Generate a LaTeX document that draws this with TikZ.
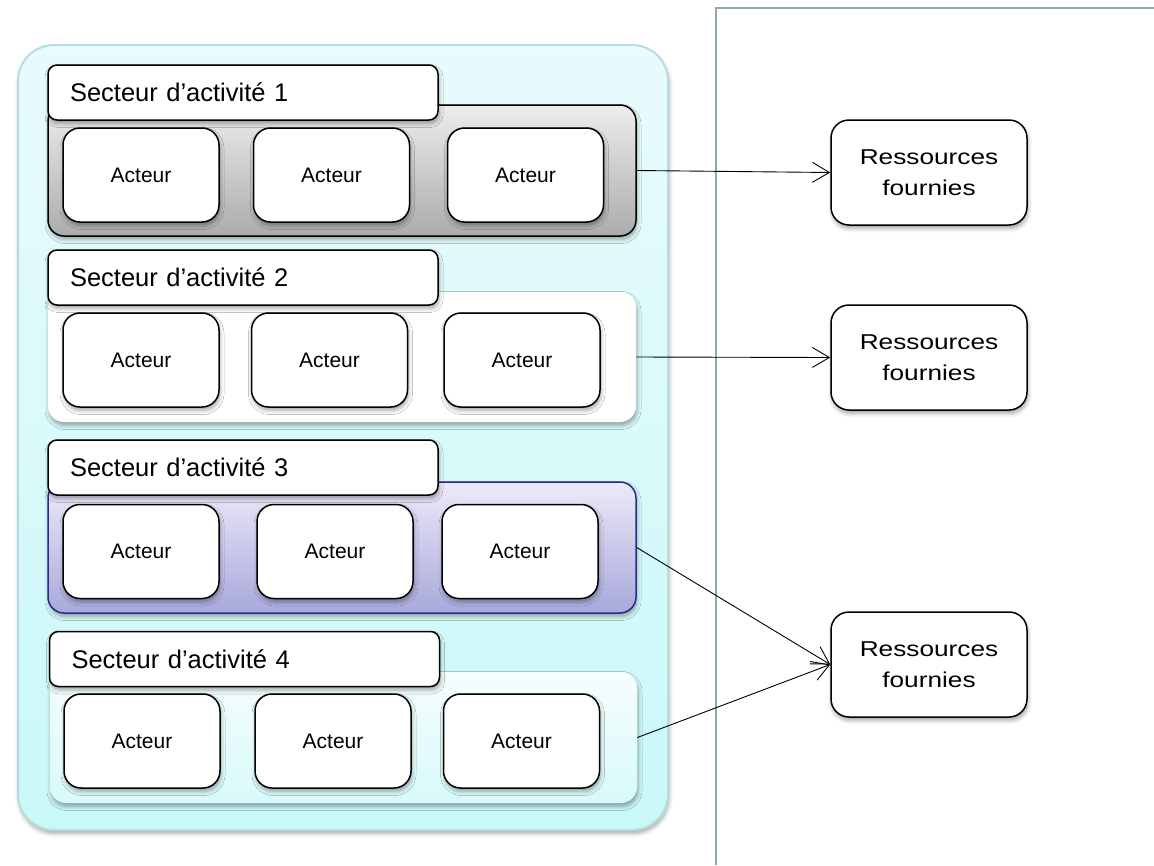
\documentclass[tikz,border=0pt]{standalone}
\usepackage{fontspec}
\setmainfont{Liberation Sans}
\newfontfamily\largefont[FakeStretch=1.22]{Liberation Sans}
\usetikzlibrary{arrows.meta, positioning, shadows.blur}

\definecolor{fondhaut}{HTML}{E9FBFC}
\definecolor{fondbas}{HTML}{C9F8F9}
\definecolor{fondbord}{HTML}{B5DDE2}
\definecolor{grishaut}{HTML}{EDEDED}
\definecolor{grisbas}{HTML}{ABABAB}
\definecolor{bleuhaut}{HTML}{ECEAF7}
\definecolor{bleubas}{HTML}{A8A8DC}
\definecolor{bleubord}{HTML}{2B2B8C}
\definecolor{clairhaut}{HTML}{F6FDFD}
\definecolor{clairbas}{HTML}{D8FAFA}
\definecolor{cadre}{HTML}{8FA9AE}

\begin{document}
\begin{tikzpicture}[x=1pt, y=-1pt, thick, >={Straight Barb[length=17pt, width=20pt]}]

	% Define styles
	\tikzstyle{ombre} = [blur shadow={shadow xshift=1pt, shadow yshift=-3.5pt, shadow blur radius=4pt, shadow opacity=35}]
	\tikzstyle{panneau} = [rectangle, rounded corners=36pt, draw=fondbord, line width=2pt, top color=fondhaut, bottom color=fondbas, minimum width=650pt, minimum height=785pt, ombre]
	\tikzstyle{groupe} = [rectangle, rounded corners=16pt, minimum width=588pt, minimum height=131pt, ombre]
	\tikzstyle{titre} = [rectangle, rounded corners=9pt, draw, line width=1.5pt, fill=white, minimum width=390pt, minimum height=55pt, text width=346pt, inner xsep=22pt, align=left, font=\fontsize{25.5}{30}\selectfont, ombre]
	\tikzstyle{acteur} = [rectangle, rounded corners=17pt, draw, line width=1.5pt, fill=white, minimum width=156pt, minimum height=94pt, font=\fontsize{21}{25}\selectfont, ombre]
	\tikzstyle{ressource} = [rectangle, rounded corners=18pt, draw, line width=1.5pt, fill=white, minimum width=196pt, minimum height=105pt, align=center, font=\largefont\fontsize{21.5}{31}\selectfont, ombre]
	\tikzstyle{fleche} = [->, line width=0.9pt]

	\useasboundingbox (0,0) rectangle (1154,865);

	% Right frame
	\draw[cadre, line width=2pt] (1154,8) -- (716,8) -- (716,865);

	% Background panel
	\node[panneau] (fond) at (343,437.5) {};

	% Groups
	\node[groupe, draw, line width=1.5pt, top color=grishaut, bottom color=grisbas] (grp1) at (342,170.5) {};
	\node[groupe, fill=white, minimum height=130pt] (grp2) at (342,357) {};
	\node[groupe, draw=bleubord, line width=1.5pt, top color=bleuhaut, bottom color=bleubas] (grp3) at (342,547.5) {};
	\node[groupe, top color=clairhaut, bottom color=clairbas, minimum width=587pt] (grp4) at (343.5,737.5) {};

	% Titles
	\node[titre] (sec1) at (243,92.5) {Secteur d’activité 1};
	\node[titre] (sec2) at (243,277.5) {Secteur d’activité 2};
	\node[titre] (sec3) at (243,467.5) {Secteur d’activité 3};
	\node[titre] (sec4) at (244.5,659) {Secteur d’activité 4};

	% Actors
	\node[acteur] (act11) at (141,175) {Acteur};
	\node[acteur] (act12) at (331.5,175) {Acteur};
	\node[acteur] (act13) at (525.5,175) {Acteur};

	\node[acteur] (act21) at (141,360) {Acteur};
	\node[acteur] (act22) at (329.5,360) {Acteur};
	\node[acteur] (act23) at (522,360) {Acteur};

	\node[acteur] (act31) at (141,551.5) {Acteur};
	\node[acteur] (act32) at (335,551.5) {Acteur};
	\node[acteur] (act33) at (520,551.5) {Acteur};

	\node[acteur] (act41) at (142,741) {Acteur};
	\node[acteur] (act42) at (333,741) {Acteur};
	\node[acteur] (act43) at (521.5,741) {Acteur};

	% Resources
	\node[ressource] (res1) at (929,172.5) {Ressources\\fournies};
	\node[ressource] (res2) at (929,357.5) {Ressources\\fournies};
	\node[ressource] (res3) at (929,664.5) {Ressources\\fournies};

	% Arrows
	\draw[fleche] (grp1.east) -- (res1.west);
	\draw[fleche] (grp2.east) -- (res2.west);
	\draw[fleche] (grp3.east) -- (res3.west);
	\draw[fleche] (grp4.east) -- (res3.west);

\end{tikzpicture}
\end{document}
